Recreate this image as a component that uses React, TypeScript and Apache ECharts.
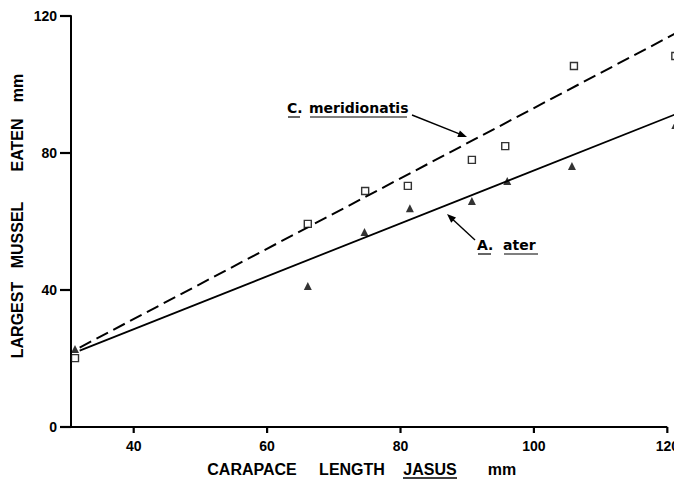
import React, { useEffect, useRef } from "react";
import * as echarts from "echarts";

// ---- data ----
const meridionalisX = [31.2, 66.1, 74.7, 81.1, 90.7, 95.7, 106.0, 121.2];
const meridionalisY = [20.1, 59.3, 68.9, 70.4, 78.0, 82.0, 105.4, 108.3];
const aterX = [31.2, 66.1, 74.6, 81.4, 90.7, 96.0, 105.7, 121.2];
const aterY = [22.8, 41.2, 56.9, 63.9, 66.0, 71.8, 76.2, 88.2];
// fitted regression lines (end points)
const meridionalisFitX = [31.9, 121.6];
const meridionalisFitY = [23.2, 115.3];
const aterFitX = [31.9, 121.6];
const aterFitY = [22.3, 91.6];
// axes
const xTicks = [40, 60, 80, 100, 120];
const yTicks = [0, 40, 80, 120];
const X_MIN = 30.6;
const X_MAX = 121.64;
const X_AXIS_END = 120;
const Y_MIN = 0;
const Y_MAX = 120;
const Y_INTERVAL = 40;

const INK = "#000000";
const LABEL_FONT = "'Liberation Sans', Arial, sans-serif";
const ANNO_FONT = "'DejaVu Sans', sans-serif";

const zip = (xs: number[], ys: number[]) => xs.map((x, i) => [x, ys[i]]);

export default function App() {
  const ref = useRef<HTMLDivElement>(null);
  useEffect(() => {
    if (!ref.current) return;
    const chart = echarts.init(ref.current, null, { renderer: "svg" });

    const titleText = (text: string, x: number, y: number, rot = 0) => ({
      type: "text",
      x,
      y,
      rotation: rot,
      style: {
        text,
        fill: INK,
        font: `bold 16px ${LABEL_FONT}`,
        align: "center",
        verticalAlign: "middle",
      },
    });
    const line = (x1: number, y1: number, x2: number, y2: number, w = 1.3) => ({
      type: "line",
      shape: { x1, y1, x2, y2 },
      style: { stroke: INK, lineWidth: w },
    });
    const annoText = (text: string, x: number, y: number) => ({
      type: "text",
      x,
      y,
      style: {
        text,
        fill: INK,
        font: `bold 14px ${ANNO_FONT}`,
        align: "left",
        verticalAlign: "middle",
      },
    });

    chart.setOption({
      animation: false,
      backgroundColor: "#ffffff",
      grid: { left: 71, right: 0, top: 16, bottom: 53, containLabel: false },
      xAxis: {
        type: "value",
        min: X_MIN,
        max: X_MAX,
        axisLine: { show: false },
        splitLine: { show: false },
        axisTick: { show: false },
        axisLabel: {
          customValues: xTicks,
          margin: 12,
          color: INK,
          fontFamily: LABEL_FONT,
          fontWeight: "bold",
          fontSize: 14,
        },
      },
      yAxis: {
        type: "value",
        min: Y_MIN,
        max: Y_MAX,
        interval: Y_INTERVAL,
        axisLine: { show: true, onZero: false, lineStyle: { color: INK, width: 2 } },
        splitLine: { show: false },
        axisTick: { show: false },
        axisLabel: {
          margin: 14,
          color: INK,
          fontFamily: LABEL_FONT,
          fontWeight: "bold",
          fontSize: 14,
        },
      },
      series: [
        {
          name: "x-axis line",
          type: "line",
          data: [
            [X_MIN, Y_MIN],
            [X_AXIS_END, Y_MIN],
          ],
          symbol: "none",
          clip: false,
          silent: true,
          lineStyle: { color: INK, width: 2 },
          z: 1,
        },
        {
          name: "x ticks",
          type: "custom",
          clip: false,
          silent: true,
          z: 6,
          data: xTicks.map((v) => [v, Y_MIN]),
          renderItem: (_p: any, api: any) => {
            const p = api.coord([api.value(0), api.value(1)]);
            return {
              type: "line",
              shape: { x1: p[0], y1: p[1], x2: p[0], y2: p[1] + 6 },
              style: { stroke: INK, lineWidth: 2.2 },
            };
          },
        },
        {
          name: "y ticks",
          type: "custom",
          clip: false,
          silent: true,
          z: 6,
          data: yTicks.map((v) => [X_MIN, v]),
          renderItem: (_p: any, api: any) => {
            const p = api.coord([api.value(0), api.value(1)]);
            return {
              type: "line",
              shape: { x1: p[0] - 11, y1: p[1], x2: p[0], y2: p[1] },
              style: { stroke: INK, lineWidth: 2.2 },
            };
          },
        },
        {
          name: "C. meridionalis fit",
          type: "line",
          data: zip(meridionalisFitX, meridionalisFitY),
          symbol: "none",
          clip: false,
          lineStyle: { color: INK, width: 2, type: [13, 6] },
        },
        {
          name: "A. ater fit",
          type: "line",
          data: zip(aterFitX, aterFitY),
          symbol: "none",
          clip: false,
          lineStyle: { color: INK, width: 1.8 },
        },
        {
          name: "C. meridionalis",
          type: "scatter",
          data: zip(meridionalisX, meridionalisY),
          symbol: "rect",
          symbolSize: 7,
          clip: false,
          itemStyle: { color: "#ffffff", borderColor: INK, borderWidth: 1.4 },
          z: 5,
        },
        {
          name: "A. ater",
          type: "scatter",
          data: zip(aterX, aterY),
          symbol: "triangle",
          symbolSize: 8,
          clip: false,
          itemStyle: { color: INK },
          z: 5,
        },
      ],
      graphic: [
        // axis titles
        titleText("CARAPACE", 252, 469),
        titleText("LENGTH", 352, 469),
        titleText("JASUS", 430, 469),
        titleText("mm", 502, 469),
        line(403, 478, 457, 478, 1.3),
        titleText("LARGEST", 17, 320, Math.PI / 2),
        titleText("MUSSEL", 17, 235, Math.PI / 2),
        titleText("EATEN", 17, 145, Math.PI / 2),
        titleText("mm", 17, 88, Math.PI / 2),
        // annotation: C. meridionatis
        annoText("C.", 287, 108),
        annoText("meridionatis", 309, 108),
        line(288, 117, 300, 117, 1.2),
        line(310, 117, 407, 117, 1.2),
        line(412, 115, 460, 134.2, 1.4),
        {
          type: "polygon",
          shape: { points: [[467, 137], [457.3, 136.95], [459.9, 130.45]] },
          style: { fill: INK },
        },
        // annotation: A. ater
        annoText("A.", 477, 245),
        annoText("ater", 503, 245),
        line(478, 254, 491, 254, 1.2),
        line(504, 254, 538, 254, 1.2),
        line(475, 240, 452.3, 218.9, 1.4),
        {
          type: "polygon",
          shape: { points: [[447, 214], [456.0, 217.6], [451.2, 222.7]] },
          style: { fill: INK },
        },
      ],
    });
    return () => chart.dispose();
  }, []);

  return <div ref={ref} style={{ width: 682, height: 480, marginLeft: -8, marginTop: -8 }} />;
}
